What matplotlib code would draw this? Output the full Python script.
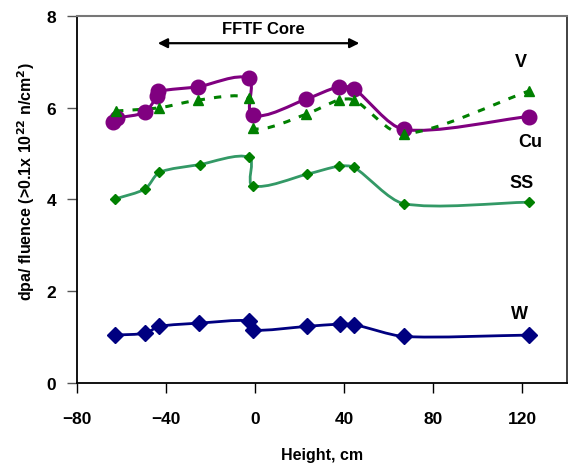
import numpy as np
import matplotlib
matplotlib.use("Agg")
import matplotlib.pyplot as plt
from matplotlib.path import Path
from matplotlib.patches import PathPatch

plt.rcParams['font.family'] = ['Liberation Sans', 'DejaVu Sans']
plt.rcParams['font.weight'] = 'bold'
plt.rcParams['mathtext.default'] = 'bf'

# data (height in cm, dpa per fluence)
cu_x = [-63.7, -62.2, -49.7, -44.0, -43.5, -25.5, -3.0, -1.2, 22.9, 37.4, 44.2, 66.6, 122.8]
cu_y = [5.68, 5.77, 5.90, 6.26, 6.36, 6.46, 6.64, 5.84, 6.19, 6.46, 6.42, 5.53, 5.81]

v_x = [-62.5, -43.1, -25.5, -3.0, -1.2, 22.9, 37.4, 44.5, 66.6, 123.1]
v_y = [5.93, 6.00, 6.17, 6.21, 5.55, 5.86, 6.17, 6.17, 5.43, 6.37]

ss_x = [-62.9, -49.4, -43.1, -25.0, -2.7, -1.2, 23.2, 37.8, 44.4, 66.6, 123.1]
ss_y = [4.01, 4.23, 4.59, 4.76, 4.92, 4.30, 4.55, 4.73, 4.70, 3.91, 3.94]

w_x = [-62.9, -49.4, -43.1, -25.2, -2.7, -1.2, 23.2, 37.9, 44.4, 66.6, 123.1]
w_y = [1.04, 1.08, 1.23, 1.30, 1.35, 1.15, 1.23, 1.28, 1.27, 1.01, 1.04]

XMIN, XMAX, YMIN, YMAX = -80, 140, 0, 8


def smooth_path(xs, ys, sx, sy, s=0.25):
    # excel-like smoothed line: cubic bezier through the points
    p = np.column_stack([np.array(xs) * sx, np.array(ys) * sy])
    n = len(p)
    tang = []
    for i in range(n):
        d = p[min(i + 1, n - 1)] - p[max(i - 1, 0)]
        tang.append(d / (np.hypot(*d) + 1e-9))
    verts = [p[0]]
    codes = [Path.MOVETO]
    for i in range(n - 1):
        L = np.hypot(*(p[i + 1] - p[i]))
        verts += [p[i] + tang[i] * L * s, p[i + 1] - tang[i + 1] * L * s, p[i + 1]]
        codes += [Path.CURVE4] * 3
    verts = np.array(verts) / [sx, sy]
    return Path(verts, codes)


fig = plt.figure(figsize=(5.71, 4.64), dpi=100)
ax = fig.add_axes([0.135, 0.173, 0.858, 0.79])
ax.set_xlim(XMIN, XMAX)
ax.set_ylim(YMIN, YMAX)

# pixel scale of the data units, for the smoothing
sx = 0.858 * 571 / (XMAX - XMIN)
sy = 0.79 * 464 / (YMAX - YMIN)

ax.add_patch(PathPatch(smooth_path(cu_x, cu_y, sx, sy), fill=False, ec='#800080', lw=2.2, zorder=3))
ax.plot(cu_x, cu_y, 'o', color='#800080', ms=10.5, zorder=4)

ax.add_patch(PathPatch(smooth_path(v_x, v_y, sx, sy), fill=False, ec='#008000', lw=2.2,
                       ls=(0, (2.4, 3.0)), zorder=3))
ax.plot(v_x, v_y, '^', color='#008000', ms=7, zorder=4)

ax.add_patch(PathPatch(smooth_path(ss_x, ss_y, sx, sy), fill=False, ec='#339966', lw=2, zorder=3))
ax.plot(ss_x, ss_y, 'D', color='#008000', ms=5.5, zorder=4)

ax.add_patch(PathPatch(smooth_path(w_x, w_y, sx, sy), fill=False, ec='#000080', lw=2, zorder=3))
ax.plot(w_x, w_y, 'D', color='#000080', ms=8, zorder=4)

# series labels
ax.text(119.5, 7.0, 'V', fontsize=13, fontweight='bold', ha='center', va='center')
ax.text(123.5, 5.27, 'Cu', fontsize=13, fontweight='bold', ha='center', va='center')
ax.text(119.5, 4.38, 'SS', fontsize=13, fontweight='bold', ha='center', va='center')
ax.text(118.5, 1.52, 'W', fontsize=13, fontweight='bold', ha='center', va='center')

# core region arrow
ax.annotate('', xy=(-45, 7.41), xytext=(48, 7.41),
            arrowprops=dict(arrowstyle='<|-|>', color='black', lw=1.6, mutation_scale=14))
ax.text(3.6, 7.73, 'FFTF Core', fontsize=12, fontweight='bold', ha='center', va='center')

ax.set_xticks([-80, -40, 0, 40, 80, 120])
ax.set_yticks([0, 2, 4, 6, 8])
ax.tick_params(axis='x', direction='out', length=7, pad=13, labelsize=12.5, width=1)
ax.tick_params(axis='y', direction='out', length=7, pad=8, labelsize=12.5, width=1, color='#555555')
for lab in ax.get_xticklabels() + ax.get_yticklabels():
    lab.set_fontweight('bold')

ax.spines['top'].set_color('#777777')
ax.spines['top'].set_linewidth(1.5)
ax.spines['left'].set_linewidth(1.3)
ax.spines['bottom'].set_linewidth(1.3)
ax.spines['right'].set_linewidth(1.3)
ax.spines['right'].set_color('#333333')

ax.set_xlabel('Height, cm', fontsize=11.5, fontweight='bold', va='center')
ax.xaxis.set_label_coords(0.5, -0.195)
ax.set_ylabel(r'dpa/ fluence (>0.1x 10$^{22}$ n/cm$^{2}$)', fontsize=11.5, fontweight='bold', va='center')
ax.yaxis.set_label_coords(-0.103, 0.55)

plt.savefig('out.png', dpi=100)
